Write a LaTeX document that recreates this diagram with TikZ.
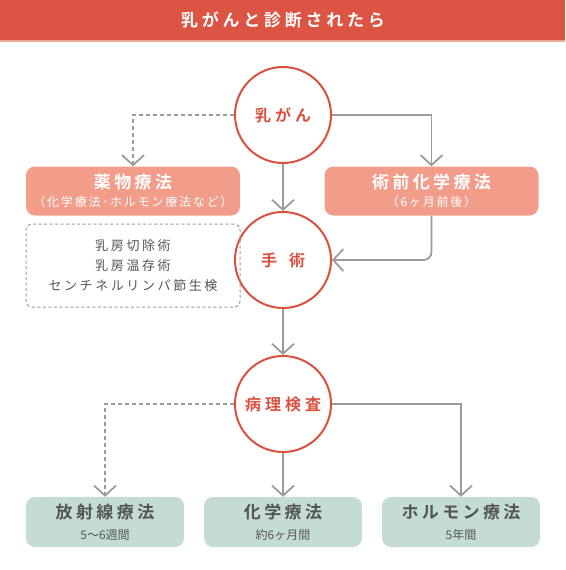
\documentclass[tikz,border=0pt]{standalone}
\usepackage{fontspec}
\setmainfont{Noto Sans CJK JP}[BoldFont={Noto Sans CJK JP Bold}]
\usetikzlibrary{arrows.meta}

\definecolor{titlered}{HTML}{DC5444}
\definecolor{titleline}{HTML}{F2A898}
\definecolor{circred}{HTML}{D9513F}
\definecolor{salmon}{HTML}{F29D8A}
\definecolor{mint}{HTML}{C4DCD5}
\definecolor{linegray}{HTML}{9B9B9B}
\definecolor{textgray}{HTML}{555555}
\newcommand{\spaced}[1]{\addfontfeature{LetterSpace=#1}}

\tikzset{
  stage/.style={circle, draw=circred, line width=2pt, fill=white, minimum size=96pt,
    inner sep=0pt, text=circred, font=\fontsize{16}{18}\selectfont\bfseries\spaced{25}},
  drugbox/.style={rectangle, rounded corners=9pt, fill=salmon, minimum width=214pt,
    minimum height=49pt, text=white, align=center, inner sep=0pt},
  treatbox/.style={rectangle, rounded corners=9pt, fill=mint, minimum width=158pt,
    minimum height=50pt, text=textgray, align=center, inner sep=0pt},
  notebox/.style={rectangle, rounded corners=6pt, draw=linegray, line width=1pt,
    dash pattern=on 3pt off 2.5pt, minimum width=214pt, minimum height=83pt,
    text=textgray, align=center, font=\fontsize{13}{20}\selectfont\spaced{20}},
  flow/.style={draw=linegray, line width=1.8pt, -{Straight Barb[length=10pt, width=22pt]}},
  faint/.style={dash pattern=on 4pt off 3pt},
}

\begin{document}
\begin{tikzpicture}[x=1pt, y=-1pt]
        \useasboundingbox (0,0) rectangle (565,570);
        % title bar
        \fill[titlered] (0,0) rectangle (565,40);
        \fill[titleline] (0,40) rectangle (565,42);
        \node[text=white, font=\fontsize{17}{20}\selectfont\bfseries\spaced{22}] (title) at (283,20) {乳がんと診断されたら};
        % stages
        \node[stage] (cancer) at (283,115) {乳がん};
        \node[stage] (surgery) at (283,260) {手\hspace{12pt}術};
        \node[stage] (patho) at (283,404) {病理検査};
        % before surgery
        \node[drugbox] (drug) at (133,191) {{\fontsize{17}{21}\selectfont\bfseries\spaced{20}薬物療法}\\[6pt]
          {\fontsize{12}{14}\selectfont\spaced{15}（化学療法･ホルモン療法など）}};
        \node[drugbox] (preop) at (431.5,191) {{\fontsize{17}{21}\selectfont\bfseries\spaced{20}術前化学療法}\\[6pt]
          {\fontsize{12}{14}\selectfont\spaced{15}（6ヶ月前後）}};
        \node[notebox] (options) at (133,265.5) {乳房切除術\\乳房温存術\\センチネルリンパ節生検};
        % after surgery
        \node[treatbox] (radio) at (105,522) {{\fontsize{17}{21}\selectfont\bfseries\spaced{20}放射線療法}\\[9pt]
          {\fontsize{12}{14}\selectfont 5〜6週間}};
        \node[treatbox] (chemo) at (283,522) {{\fontsize{17}{21}\selectfont\bfseries\spaced{20}化学療法}\\[9pt]
          {\fontsize{12}{14}\selectfont 約6ヶ月間}};
        \node[treatbox] (hormone) at (461,522) {{\fontsize{17}{21}\selectfont\bfseries\spaced{20}ホルモン療法}\\[9pt]
          {\fontsize{12}{14}\selectfont 5年間}};
        % connectors
        \draw[flow, faint] (cancer.west) -| (drug.north);
        \draw[flow] (cancer.east) -| (preop.north);
        \draw[flow] (cancer) -- (surgery);
        \draw[flow, rounded corners=8pt] (preop.south) |- (surgery.east);
        \draw[flow] (surgery) -- (patho);
        \draw[flow, faint] (patho.west) -| (radio.north);
        \draw[flow] (patho) -- (chemo);
        \draw[flow] (patho.east) -| (hormone.north);
\end{tikzpicture}
\end{document}
